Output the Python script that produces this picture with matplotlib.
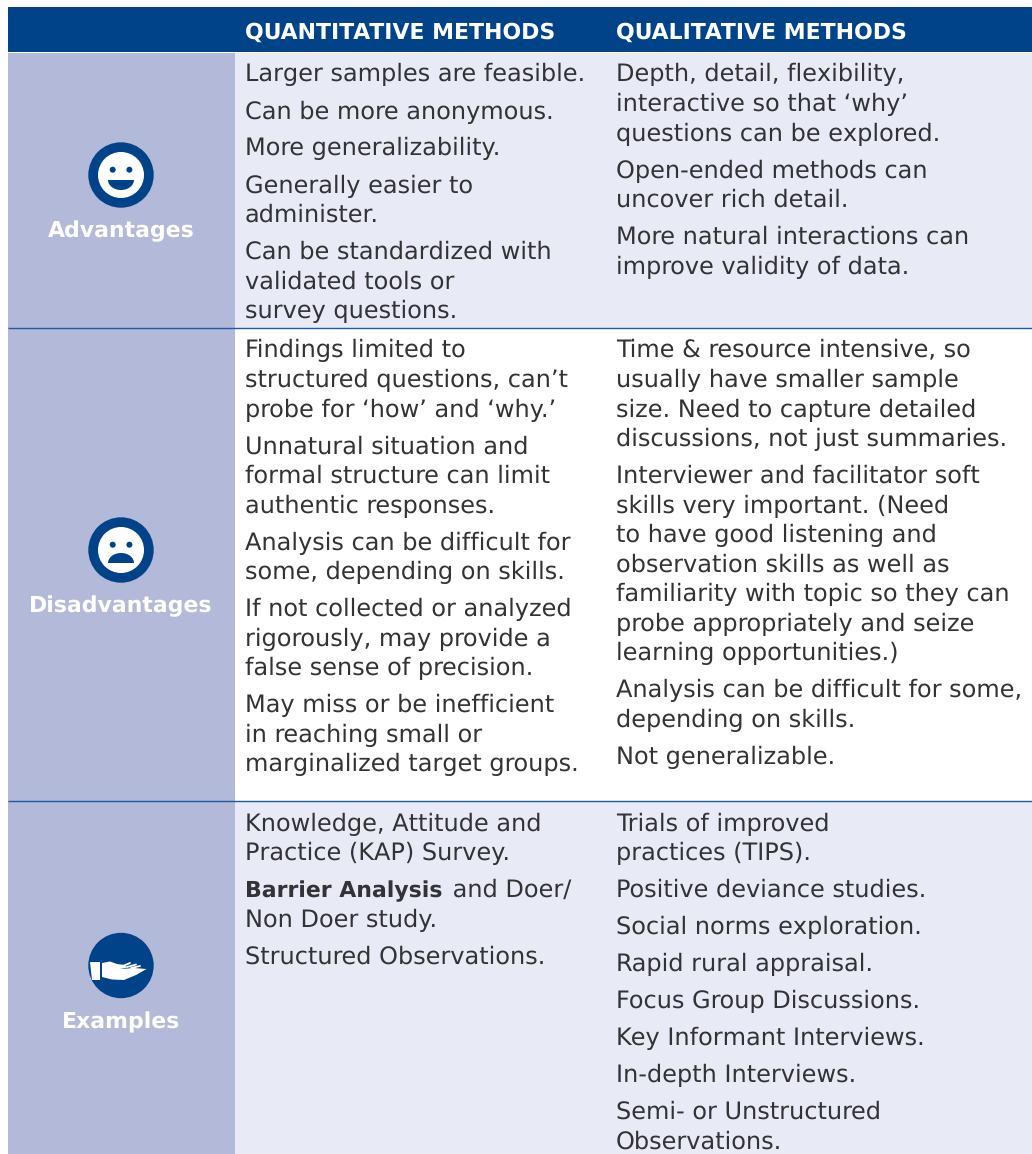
import matplotlib
matplotlib.use("Agg")
import matplotlib.pyplot as plt
from matplotlib.patches import Circle, Rectangle, Ellipse, Polygon

plt.rcParams['font.family'] = ['DejaVu Sans']
plt.rcParams['text.hinting'] = 'none'
plt.rcParams['text.hinting_factor'] = 1

NAVY = "#004388"
SIDE = "#b2b9d9"
TINT = "#e8ebf5"
RULE = "#1d5aa3"
INK = "#333335"

headers = ["QUANTITATIVE METHODS", "QUALITATIVE METHODS"]
row_names = ["Advantages", "Disadvantages", "Examples"]

quant = [
    [["Larger samples are feasible."],
     ["Can be more anonymous."],
     ["More generalizability."],
     ["Generally easier to", "administer."],
     ["Can be standardized with", "validated tools or", "survey questions."]],
    [["Findings limited to", "structured questions, can’t", "probe for ‘how’ and ‘why.’"],
     ["Unnatural situation and", "formal structure can limit", "authentic responses."],
     ["Analysis can be difficult for", "some, depending on skills."],
     ["If not collected or analyzed", "rigorously, may provide a", "false sense of precision."],
     ["May miss or be inefficient", "in reaching small or", "marginalized target groups."]],
    [["Knowledge, Attitude and", "Practice (KAP) Survey."],
     ["**Barrier Analysis** and Doer/", "Non Doer study."],
     ["Structured Observations."]],
]
qual = [
    [["Depth, detail, flexibility,", "interactive so that ‘why’", "questions can be explored."],
     ["Open-ended methods can", "uncover rich detail."],
     ["More natural interactions can", "improve validity of data."]],
    [["Time & resource intensive, so", "usually have smaller sample", "size. Need to capture detailed", "discussions, not just summaries."],
     ["Interviewer and facilitator soft", "skills very important. (Need", "to have good listening and", "observation skills as well as", "familiarity with topic so they can", "probe appropriately and seize", "learning opportunities.)"],
     ["Analysis can be difficult for some,", "depending on skills."],
     ["Not generalizable."]],
    [["Trials of improved", "practices (TIPS)."],
     ["Positive deviance studies."],
     ["Social norms exploration."],
     ["Rapid rural appraisal."],
     ["Focus Group Discussions."],
     ["Key Informant Interviews."],
     ["In-depth Interviews."],
     ["Semi- or Unstructured", "Observations."]],
]

W, H = 1032, 1154
fig = plt.figure(figsize=(W / 100, H / 100), dpi=100)
ax = fig.add_axes([0, 0, 1, 1])
ax.set_xlim(0, W)
ax.set_ylim(H, 0)
ax.axis("off")

# bands
ax.add_patch(Rectangle((8, 7), W - 8, 45, fc=NAVY, ec="none"))
ax.add_patch(Rectangle((8, 52.5), 226.5, H, fc=SIDE, ec="none"))
ax.add_patch(Rectangle((234.5, 52.5), W, 275.5, fc=TINT, ec="none"))
ax.add_patch(Rectangle((234.5, 801), W, H, fc=TINT, ec="none"))
for y in [328, 800.5]:
    ax.plot([8, W], [y, y], color=RULE, lw=1.0, solid_capstyle="butt")

FS = 17.2
LINE = 29.55
GAP = 37
row_tops = [81.5, 357.5, 830.5]  # first baselines
col_x = [245, 616]


def draw_line(x, y, s):
    if s.startswith("**"):
        bold, rest = s[2:].split("**")
        t = ax.text(x, y, bold, fontsize=15.9, fontweight="bold", color=INK, va="baseline")
        box = t.get_window_extent(fig.canvas.get_renderer())
        ax.text(box.x1 + 3, y, rest, fontsize=FS, color=INK, va="baseline")
    else:
        ax.text(x, y, s, fontsize=FS, color=INK, va="baseline")


for x, col in zip(col_x, [quant, qual]):
    for top, paras in zip(row_tops, col):
        y = top
        for para in paras:
            for j, s in enumerate(para):
                draw_line(x, y + j * LINE, s)
            y += (len(para) - 1) * LINE + GAP

for x, s in zip(col_x, headers):
    ax.text(x, 38.5, s, fontsize=15.6, fontweight="bold", color="white", va="baseline")

for s, y in zip(row_names, [237, 612, 1028]):
    ax.text(121, y, s, fontsize=15.6, fontweight="bold", color="white", ha="center", va="baseline")


def face(cy, happy):
    ax.add_patch(Circle((121, cy), 32.7, fc=NAVY, ec="none"))
    ax.add_patch(Circle((121, cy), 23, fc="white", ec="none"))
    for ex in [112.7, 129.4]:
        ax.add_patch(Circle((ex, cy - 5.3), 3, fc=NAVY, ec="none"))
    if happy:
        mouth = Ellipse((121, cy + 5), 26, 20, fc=NAVY, ec="none")
        clip = Rectangle((100, cy + 5), 42, 12, transform=ax.transData)
    else:
        mouth = Ellipse((121, cy + 13), 26, 20, fc=NAVY, ec="none")
        clip = Rectangle((100, cy), 42, 13, transform=ax.transData)
    ax.add_patch(mouth)
    mouth.set_clip_path(clip)


face(175, True)
face(550, False)

# hand icon
ax.add_patch(Circle((121, 965.5), 32.7, fc=NAVY, ec="none"))
ax.add_patch(Polygon([(89.5, 962), (99.5, 962), (99.5, 979.5), (91.5, 979.5)], fc="white", ec="none"))
ax.add_patch(Polygon([(102, 963), (110, 961.5), (117, 964), (125, 965), (127, 967.5), (120, 969),
                      (134, 968), (146.5, 969), (136, 975), (124, 980), (112, 979.5), (102, 977)],
                     fc="white", ec="none"))
for x0, y0, x1, y1 in [(123, 966, 130, 963), (127, 967, 136, 964.5), (131, 968, 140, 966)]:
    ax.plot([x0, x1], [y0, y1], color="white", lw=1.3, solid_capstyle="round")

fig.savefig("out.png", dpi=100)
